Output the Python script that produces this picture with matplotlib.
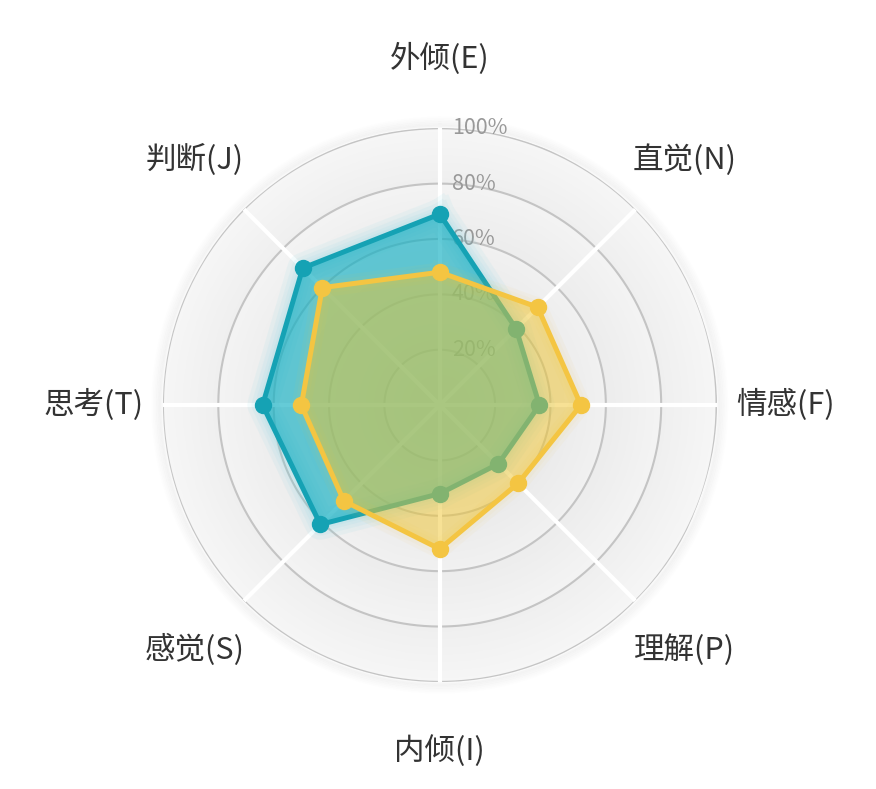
import numpy as np
import matplotlib
matplotlib.use("Agg")
import matplotlib.pyplot as plt
import matplotlib.transforms as mtransforms

plt.rcParams['font.family'] = ['Noto Sans CJK SC', 'DejaVu Sans']

# ---- data ----
categories = ['外倾(E)', '直觉(N)', '情感(F)', '理解(P)', '内倾(I)', '感觉(S)', '思考(T)', '判断(J)']
series_teal = [0.69, 0.39, 0.36, 0.30, 0.32, 0.61, 0.64, 0.70]
series_yellow = [0.48, 0.50, 0.51, 0.40, 0.52, 0.49, 0.50, 0.60]
ring_values = [0.2, 0.4, 0.6, 0.8, 1.0]
ring_labels = ['20%', '40%', '60%', '80%', '100%']

teal = '#15a2b4'
teal_fill = '#12afc2'
yellow = '#f4c542'
yellow_fill = '#f0c52d'

fig = plt.figure(figsize=(8.76, 7.89), dpi=100)
ax = fig.add_axes([0.186, 0.1356, 0.632, 0.702], projection='polar')
ax.set_theta_zero_location('N')
ax.set_theta_direction(-1)
ax.set_ylim(0, 1.0)
ax.set_xticks([])
ax.set_yticks([])
ax.grid(False)
ax.spines['polar'].set_visible(False)
ax.set_facecolor('none')

n = len(categories)
angles = np.arange(n) * 2 * np.pi / n

# background radial shading
th = np.linspace(0, 2 * np.pi, 361)
rr = np.linspace(0, 1.0, 300)
TH, RR = np.meshgrid(th, rr)
frac = (RR % 0.2) / 0.2
val = 0.895 + 0.05 * RR + 0.018 * frac
ax.pcolormesh(TH, RR, val[:-1, :-1], cmap='gray', vmin=0, vmax=1, shading='flat', zorder=0)

# soft outer shadow
tt = np.linspace(0, 2 * np.pi, 400)
for k, a in enumerate(np.linspace(0.06, 0.01, 6)):
    ax.plot(tt, np.full_like(tt, 1.0 + 0.006 * (k + 1)), color='#999999', alpha=a, lw=2.5, clip_on=False, zorder=0.5)

# rings
for r in ring_values:
    ax.plot(tt, np.full_like(tt, r), color='#c4c4c4', lw=1.5, zorder=1)

# spokes
for a in angles:
    ax.plot([a, a], [0, 1.0], color='white', lw=3.0, zorder=2, solid_capstyle='butt')

# ring labels
offset = mtransforms.ScaledTranslation(12 / 100, 0, fig.dpi_scale_trans)
for r, lab in zip(ring_values, ring_labels):
    ax.text(0, r, lab, transform=ax.transData + offset, ha='left', va='center',
            fontsize=15.5, color='#999999', zorder=3)

# category labels
for a, lab in zip(angles, categories):
    ax.text(a, 1.25, lab, ha='center', va='center', fontsize=22, color='#333333', zorder=5,
            clip_on=False)

def closed(v):
    v = list(v)
    return np.append(angles, angles[0]), np.array(v + v[:1])

# teal series with glow
ta, tv = closed(series_teal)
for w in [22, 16, 11, 7]:
    ax.plot(ta, tv, color='#5ccde0', alpha=0.07, lw=w, zorder=3.5, solid_joinstyle='round')
ax.fill(ta, tv, color=teal_fill, alpha=0.65, zorder=4, lw=0)
ax.plot(ta, tv, color=teal, lw=3.6, zorder=4.1, solid_joinstyle='round')
ax.plot(angles, series_teal, 'o', color=teal, ms=11.5, zorder=4.2)

# yellow series
ya, yv = closed(series_yellow)
for w in [14, 9]:
    ax.plot(ya, yv, color=yellow, alpha=0.05, lw=w, zorder=4.4, solid_joinstyle='round')
ax.fill(ya, yv, color=yellow_fill, alpha=0.5, zorder=4.5, lw=0)
ax.plot(ya, yv, color=yellow, lw=3.6, zorder=4.6, solid_joinstyle='round')
ax.plot(angles, series_yellow, 'o', color=yellow, ms=11.5, zorder=4.7)

fig.savefig('out.png', dpi=100, facecolor='white')
